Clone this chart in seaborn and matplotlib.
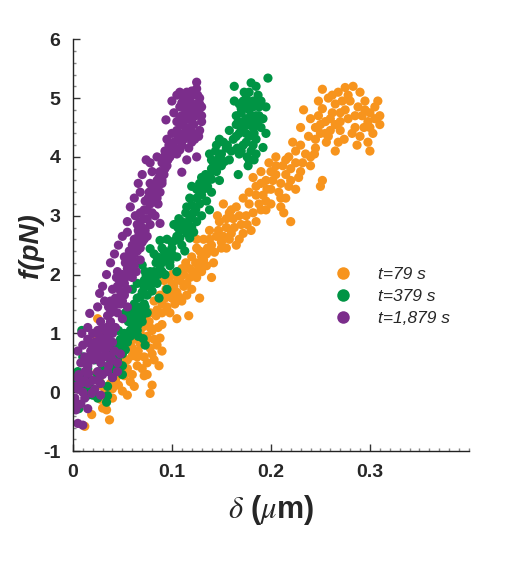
import numpy as np
import pandas as pd
import matplotlib
matplotlib.use("Agg")
import matplotlib.pyplot as plt
from matplotlib.ticker import MultipleLocator, FixedLocator
from matplotlib.lines import Line2D
import seaborn as sns

# ---------------- data ----------------
series_labels = ["t=79 s", "t=379 s", "t=1,879 s"]
series_colors = ["#F7941D", "#009444", "#7B2D8B"]

t79_points = [
    (0.012, -0.58), (0.019, -0.38), (0.030, -0.27), (0.034, -0.30), (0.037, -0.47), (0.028, -0.12),
    (0.022, -0.05), (0.033, 0.02), (0.040, 0.06), (0.046, 0.12), (0.050, 0.02), (0.043, 0.20),
    (0.052, 0.28), (0.058, 0.18), (0.062, 0.10), (0.027, 0.18), (0.015, 0.12), (0.006, 0.28),
    (0.009, 0.05), (0.024, 0.33), (0.035, 0.38), (0.047, 0.42), (0.078, -0.02), (0.080, 0.12),
    (0.072, 0.28), (0.075, 0.30), (0.065, 0.45), (0.040, -0.10), (0.055, -0.05),
    (0.018, 0.00), (0.030, 0.10), (0.045, 0.28), (0.038, 0.15), (0.055, 0.40), (0.060, 0.30),
    (0.050, 0.50), (0.065, 0.60), (0.070, 0.40), (0.075, 0.50),
    (0.055, 0.55), (0.060, 0.62), (0.066, 0.70), (0.050, 0.70), (0.072, 0.60), (0.078, 0.75),
    (0.085, 0.80), (0.082, 0.55), (0.070, 0.85), (0.062, 0.90), (0.075, 0.95), (0.068, 1.00),
    (0.080, 1.05), (0.088, 0.92), (0.058, 0.80), (0.045, 0.75), (0.090, 1.15), (0.077, 1.20),
    (0.084, 1.30), (0.030, 1.00), (0.025, 1.25), (0.022, 0.90), (0.063, 1.10), (0.087, 0.45),
    (0.090, 0.70),
    (0.060, 0.75), (0.068, 0.82), (0.074, 0.88), (0.070, 1.10), (0.078, 1.10), (0.082, 0.90),
    (0.086, 1.10), (0.072, 1.25), (0.080, 0.65), (0.065, 0.98),
    (0.085, 1.40), (0.090, 1.50), (0.095, 1.45), (0.100, 1.60), (0.098, 1.35), (0.105, 1.70),
    (0.110, 1.55), (0.102, 1.80), (0.094, 1.75), (0.088, 1.65), (0.108, 1.90), (0.115, 1.85),
    (0.120, 1.75), (0.112, 2.00), (0.100, 2.00), (0.118, 2.10), (0.125, 1.95), (0.128, 1.60),
    (0.117, 1.30), (0.105, 1.25), (0.078, 1.35), (0.082, 1.55), (0.130, 2.05), (0.124, 2.20),
    (0.092, 1.90),
    (0.090, 1.35), (0.093, 1.60), (0.097, 1.70), (0.103, 1.50), (0.107, 1.62), (0.100, 1.85),
    (0.106, 1.95), (0.112, 1.80), (0.115, 1.65), (0.118, 1.95), (0.122, 2.05), (0.097, 1.95),
    (0.110, 2.10), (0.114, 2.20), (0.127, 2.15),
    (0.120, 2.30), (0.128, 2.40), (0.135, 2.35), (0.140, 2.50), (0.132, 2.60), (0.145, 2.65),
    (0.150, 2.55), (0.138, 2.75), (0.155, 2.80), (0.148, 2.90), (0.160, 2.70), (0.162, 2.95),
    (0.142, 2.20), (0.155, 2.45), (0.168, 2.60), (0.170, 2.85), (0.158, 3.05), (0.165, 3.15),
    (0.175, 3.00), (0.180, 2.75), (0.185, 2.90), (0.152, 3.20), (0.146, 3.00), (0.172, 3.30),
    (0.190, 3.10), (0.135, 2.15), (0.140, 1.95), (0.125, 2.60),
    (0.130, 2.30), (0.136, 2.45), (0.125, 2.45), (0.132, 2.25), (0.143, 2.38), (0.147, 2.75),
    (0.152, 2.65), (0.158, 2.60), (0.163, 2.80), (0.155, 2.95), (0.165, 2.50), (0.172, 2.70),
    (0.176, 2.85), (0.168, 3.00), (0.182, 3.05), (0.160, 3.10), (0.150, 2.45), (0.138, 2.60),
    (0.178, 3.40), (0.185, 3.50), (0.192, 3.35), (0.195, 3.60), (0.200, 3.45), (0.205, 3.70),
    (0.190, 3.75), (0.210, 3.55), (0.215, 3.30), (0.200, 3.20), (0.220, 3.60), (0.212, 3.85),
    (0.225, 3.90), (0.218, 4.00), (0.230, 3.75), (0.235, 4.05), (0.205, 4.00), (0.198, 3.90),
    (0.225, 3.45), (0.210, 3.15), (0.213, 3.05), (0.220, 2.90), (0.240, 3.85), (0.188, 3.20),
    (0.182, 3.65), (0.230, 4.20), (0.222, 4.25), (0.245, 4.15), (0.252, 3.60), (0.250, 3.50),
    (0.178, 3.20), (0.185, 3.35), (0.190, 3.55), (0.196, 3.45), (0.202, 3.60), (0.208, 3.40),
    (0.195, 3.25), (0.205, 3.85), (0.215, 3.70), (0.220, 3.80), (0.228, 3.65), (0.232, 3.90),
    (0.215, 3.95), (0.225, 4.10), (0.240, 4.00), (0.210, 3.30), (0.200, 3.75), (0.195, 3.10),
    (0.218, 3.50),
    (0.238, 4.35), (0.245, 4.50), (0.250, 4.40), (0.255, 4.60), (0.260, 4.45), (0.248, 4.70),
    (0.262, 4.75), (0.270, 4.60), (0.265, 4.90), (0.275, 4.80), (0.258, 5.00), (0.268, 5.10),
    (0.278, 5.05), (0.283, 5.20), (0.275, 5.18), (0.252, 5.15), (0.280, 4.95), (0.288, 4.85),
    (0.292, 4.70), (0.298, 4.60), (0.300, 4.75), (0.305, 4.85), (0.310, 4.70), (0.308, 4.95),
    (0.295, 4.95), (0.285, 4.50), (0.290, 4.35), (0.298, 4.25), (0.300, 4.10), (0.287, 4.20),
    (0.274, 4.30), (0.265, 4.10), (0.240, 4.65), (0.230, 4.50), (0.233, 4.80), (0.244, 4.05),
    (0.310, 4.55), (0.303, 4.40), (0.270, 4.45), (0.256, 4.25),
    (0.250, 4.55), (0.245, 4.30), (0.255, 4.40), (0.260, 4.65), (0.252, 4.82), (0.265, 4.55),
    (0.258, 4.35), (0.270, 4.75), (0.272, 4.95), (0.262, 5.05), (0.290, 5.10), (0.285, 4.70),
    (0.295, 4.80), (0.300, 4.50), (0.278, 4.65), (0.248, 4.95), (0.305, 4.65), (0.294, 4.50),
    (0.282, 4.40), (0.268, 4.25),
]

t379_points = [
    (0.000, 0.10), (0.005, 0.20), (0.006, -0.28), (0.012, 0.05), (0.018, 0.20), (0.020, -0.05),
    (0.025, 0.30), (0.034, -0.17), (0.035, -0.06), (0.035, 0.10), (0.040, 0.25), (0.030, 0.45),
    (0.015, 0.40), (0.045, 0.40), (0.050, 0.30), (0.010, 0.60), (0.009, 1.05), (0.022, 0.55),
    (0.010, 0.25), (0.020, 0.05), (0.028, 0.15), (0.030, 0.35), (0.040, 0.40), (0.045, 0.55),
    (0.015, -0.05), (0.025, -0.10), (0.005, 0.35),
    (0.040, 0.60), (0.045, 0.70), (0.050, 0.65), (0.042, 0.80), (0.048, 0.90), (0.055, 0.85),
    (0.052, 1.00), (0.058, 0.95), (0.060, 1.10), (0.046, 1.05), (0.056, 1.20), (0.063, 1.25),
    (0.065, 1.05), (0.070, 1.30), (0.060, 1.40), (0.068, 1.45), (0.072, 1.50), (0.075, 1.35),
    (0.038, 0.50), (0.035, 0.75), (0.050, 0.45), (0.071, 0.91), (0.073, 0.80), (0.066, 0.95),
    (0.053, 1.35),
    (0.043, 0.62), (0.048, 0.78), (0.053, 0.72), (0.055, 0.95), (0.050, 0.88), (0.058, 1.05),
    (0.062, 1.00), (0.060, 1.20), (0.066, 1.15), (0.064, 1.35), (0.070, 1.20), (0.068, 1.38),
    (0.073, 1.45), (0.057, 1.30), (0.062, 1.50),
    (0.065, 1.60), (0.070, 1.70), (0.075, 1.65), (0.078, 1.80), (0.072, 1.90), (0.080, 1.95),
    (0.085, 1.85), (0.082, 2.05), (0.088, 2.10), (0.090, 2.20), (0.085, 2.30), (0.095, 2.25),
    (0.092, 2.40), (0.100, 2.35), (0.098, 2.15), (0.105, 2.30), (0.093, 2.00), (0.070, 2.16),
    (0.074, 1.98), (0.078, 2.44), (0.088, 2.58), (0.087, 1.60), (0.095, 1.75), (0.105, 2.05),
    (0.065, 1.85), (0.060, 1.75),
    (0.068, 1.62), (0.072, 1.78), (0.076, 1.85), (0.080, 1.72), (0.083, 1.90), (0.078, 2.05),
    (0.086, 2.00), (0.090, 2.05), (0.084, 2.20), (0.088, 2.28), (0.092, 2.30), (0.096, 2.38),
    (0.100, 2.45), (0.090, 2.45), (0.082, 2.35), (0.073, 2.05), (0.098, 2.22),
    (0.100, 2.55), (0.105, 2.65), (0.110, 2.50), (0.108, 2.75), (0.115, 2.70), (0.112, 2.85),
    (0.120, 2.80), (0.118, 2.95), (0.125, 2.90), (0.122, 3.05), (0.130, 3.00), (0.115, 3.15),
    (0.128, 3.20), (0.118, 3.30), (0.130, 3.35), (0.135, 3.25), (0.125, 3.45), (0.140, 3.40),
    (0.133, 3.55), (0.120, 3.50), (0.095, 2.60), (0.102, 2.85), (0.138, 3.10), (0.113, 2.40),
    (0.107, 2.95),
    (0.103, 2.58), (0.108, 2.62), (0.106, 2.80), (0.110, 2.90), (0.113, 2.78), (0.116, 2.88),
    (0.120, 3.00), (0.124, 3.10), (0.120, 3.18), (0.125, 3.30), (0.128, 3.40), (0.132, 3.45),
    (0.136, 3.50), (0.128, 3.55), (0.114, 3.05), (0.118, 2.62), (0.122, 2.72),
    (0.130, 3.65), (0.138, 3.70), (0.140, 3.80), (0.145, 3.75), (0.142, 3.90), (0.148, 4.00),
    (0.150, 3.85), (0.138, 4.05), (0.155, 4.15), (0.152, 4.25), (0.145, 4.20), (0.158, 3.95),
    (0.135, 3.60), (0.160, 4.10), (0.148, 3.60),
    (0.134, 3.70), (0.140, 3.62), (0.143, 3.85), (0.146, 3.95), (0.144, 4.10), (0.150, 4.05),
    (0.153, 3.92), (0.156, 4.20), (0.148, 4.30), (0.140, 3.95),
    (0.162, 4.30), (0.168, 4.40), (0.165, 4.55), (0.172, 4.50), (0.175, 4.65), (0.170, 4.75),
    (0.178, 4.80), (0.168, 4.90), (0.175, 5.00), (0.182, 4.95), (0.180, 4.60), (0.185, 4.70),
    (0.188, 4.85), (0.190, 4.50), (0.178, 4.35), (0.172, 4.20), (0.180, 4.10), (0.185, 4.30),
    (0.177, 3.85), (0.167, 3.70), (0.168, 4.05), (0.192, 4.16), (0.192, 4.65), (0.195, 4.85),
    (0.187, 5.05), (0.180, 5.26), (0.185, 5.20), (0.197, 5.34), (0.163, 5.20), (0.173, 5.10),
    (0.195, 4.40), (0.165, 4.70), (0.163, 4.95), (0.158, 4.45), (0.183, 3.95), (0.176, 4.00),
    (0.165, 4.35), (0.170, 4.45), (0.175, 4.40), (0.172, 4.60), (0.177, 4.55), (0.182, 4.50),
    (0.180, 4.70), (0.176, 4.90), (0.182, 4.85), (0.172, 4.95), (0.178, 5.10), (0.170, 4.82),
    (0.186, 4.60), (0.183, 4.40), (0.188, 4.70), (0.175, 4.25), (0.182, 4.20), (0.170, 4.10),
    (0.185, 4.05), (0.178, 3.95), (0.166, 4.15), (0.190, 4.95), (0.167, 4.60),
]

t1879_points = [
    (0.003, 0.10), (0.002, -0.10), (0.005, 0.25), (0.008, -0.20), (0.006, 0.30), (0.010, 0.00),
    (0.015, 0.15), (0.015, -0.28), (0.019, -0.02), (0.022, 0.05), (0.025, 0.20), (0.028, -0.05),
    (0.005, -0.53), (0.010, -0.56), (0.003, -0.30), (0.012, 0.35), (0.030, 0.30), (0.035, 0.35),
    (0.005, 0.05), (0.008, 0.15), (0.012, 0.20), (0.016, 0.32), (0.020, 0.20), (0.025, 0.35),
    (0.028, 0.15), (0.004, -0.20), (0.012, -0.10),
    (0.008, 0.50), (0.012, 0.60), (0.015, 0.45), (0.018, 0.70), (0.020, 0.55), (0.025, 0.65),
    (0.028, 0.50), (0.030, 0.75), (0.033, 0.60), (0.036, 0.45), (0.040, 0.55), (0.022, 0.85),
    (0.027, 0.95), (0.032, 0.90), (0.015, 0.90), (0.010, 0.80), (0.035, 1.00), (0.040, 0.85),
    (0.042, 0.70), (0.045, 0.50), (0.030, 1.10), (0.025, 1.05), (0.020, 1.00), (0.038, 1.20),
    (0.043, 1.10), (0.005, 0.70), (0.009, 1.00), (0.045, 0.35), (0.040, 0.25), (0.015, 1.10),
    (0.048, 0.65),
    (0.012, 0.50), (0.017, 0.58), (0.020, 0.65), (0.023, 0.75), (0.026, 0.55), (0.030, 0.60),
    (0.033, 0.72), (0.036, 0.80), (0.030, 0.88), (0.025, 0.80), (0.018, 0.82), (0.038, 0.62),
    (0.035, 0.92), (0.040, 1.00), (0.033, 1.05), (0.028, 1.20), (0.036, 1.12),
    (0.035, 1.30), (0.040, 1.40), (0.045, 1.35), (0.038, 1.55), (0.043, 1.60), (0.048, 1.50),
    (0.050, 1.70), (0.045, 1.80), (0.052, 1.85), (0.055, 1.75), (0.050, 2.00), (0.057, 2.05),
    (0.060, 1.95), (0.053, 2.20), (0.058, 2.30), (0.062, 2.15), (0.065, 2.40), (0.060, 2.50),
    (0.045, 2.05), (0.040, 1.75), (0.032, 1.55), (0.027, 1.68), (0.055, 1.45), (0.050, 1.25),
    (0.017, 1.34), (0.068, 2.25),
    (0.038, 1.35), (0.042, 1.48), (0.046, 1.60), (0.048, 1.72), (0.050, 1.55), (0.052, 1.65),
    (0.047, 1.90), (0.053, 1.95), (0.055, 2.10), (0.058, 2.15), (0.060, 2.25), (0.062, 2.35),
    (0.057, 2.40), (0.063, 2.50), (0.044, 1.95), (0.036, 1.45), (0.052, 2.30),
    (0.030, 1.80), (0.034, 2.00), (0.038, 2.20), (0.042, 2.35), (0.046, 2.50), (0.025, 1.45),
    (0.064, 2.05), (0.068, 2.45), (0.070, 2.55),
    (0.062, 2.60), (0.067, 2.70), (0.065, 2.85), (0.070, 2.80), (0.072, 2.95), (0.068, 3.05),
    (0.075, 3.10), (0.073, 3.25), (0.078, 3.20), (0.077, 3.40), (0.082, 3.35), (0.080, 3.50),
    (0.085, 3.45), (0.055, 2.72), (0.088, 2.87), (0.083, 3.00), (0.063, 3.00), (0.068, 3.40),
    (0.090, 3.55), (0.075, 2.65),
    (0.065, 2.62), (0.068, 2.90), (0.070, 2.68), (0.072, 3.10), (0.075, 2.95), (0.076, 3.30),
    (0.080, 3.28), (0.080, 3.05), (0.083, 3.40), (0.078, 3.55), (0.085, 3.30), (0.072, 2.60),
    (0.066, 2.75),
    (0.050, 2.65), (0.055, 2.90), (0.058, 3.15), (0.062, 3.30), (0.066, 3.55), (0.070, 3.70),
    (0.074, 3.95), (0.073, 2.75), (0.078, 2.85), (0.086, 3.20), (0.088, 3.40),
    (0.085, 3.60), (0.088, 3.75), (0.092, 3.70), (0.090, 3.90), (0.095, 3.85), (0.098, 4.00),
    (0.093, 4.10), (0.100, 4.15), (0.105, 4.05), (0.102, 4.25), (0.108, 4.30), (0.110, 4.20),
    (0.112, 4.40), (0.105, 4.45), (0.115, 4.35), (0.118, 4.50), (0.120, 4.25), (0.110, 3.74),
    (0.115, 3.95), (0.125, 4.00), (0.085, 4.00), (0.080, 3.75), (0.095, 4.30), (0.122, 4.55),
    (0.128, 4.45), (0.094, 4.63), (0.078, 3.90),
    (0.087, 3.65), (0.090, 3.60), (0.093, 3.80), (0.096, 3.95), (0.100, 4.05), (0.097, 4.20),
    (0.103, 4.15), (0.106, 4.35), (0.108, 4.12), (0.112, 4.30), (0.114, 4.48), (0.117, 4.40),
    (0.120, 4.42), (0.100, 4.40), (0.092, 4.00), (0.117, 4.15), (0.123, 4.30),
    (0.105, 4.60), (0.110, 4.70), (0.108, 4.85), (0.115, 4.75), (0.120, 4.80), (0.118, 4.95),
    (0.125, 4.90), (0.122, 5.05), (0.128, 5.00), (0.130, 4.70), (0.112, 5.00), (0.105, 5.05),
    (0.100, 4.95), (0.115, 5.10), (0.125, 5.16), (0.125, 5.27), (0.120, 5.12), (0.102, 4.75),
    (0.130, 4.60), (0.127, 4.35), (0.110, 4.55), (0.117, 4.65), (0.124, 4.70),
    (0.108, 4.65), (0.113, 4.82), (0.112, 4.60), (0.117, 4.88), (0.120, 4.62), (0.123, 4.82),
    (0.127, 4.78), (0.128, 4.90), (0.126, 5.05), (0.118, 5.05), (0.110, 4.92), (0.108, 5.10),
    (0.120, 4.70), (0.130, 4.85),
]

x_tick_values = [0, 0.1, 0.2, 0.3]
x_tick_labels = ["0", "0.1", "0.2", "0.3"]
y_tick_values = [-1, 0, 1, 2, 3, 4, 5, 6]

# ---------------- build table ----------------
frames = []
for lab, pts in zip(series_labels, [t79_points, t379_points, t1879_points]):
    arr = np.array(pts)
    frames.append(pd.DataFrame({"delta": arr[:, 0], "f": arr[:, 1], "series": lab}))
df = pd.concat(frames, ignore_index=True)

# ---------------- plot ----------------
sns.set_style("ticks")
plt.rcParams["font.family"] = ["Liberation Sans", "DejaVu Sans"]
plt.rcParams["mathtext.fontset"] = "stix"
plt.rcParams["axes.unicode_minus"] = False

fig = plt.figure(figsize=(5.17, 5.61), dpi=100)
ax = fig.add_axes([0.141, 0.196, 0.766, 0.734])

palette = dict(zip(series_labels, series_colors))
sns.scatterplot(data=df, x="delta", y="f", hue="series", hue_order=series_labels,
                palette=palette, s=44, linewidth=0, alpha=1.0, ax=ax, legend=False)

ax.set_xlim(0, 0.4)
ax.set_ylim(-1, 6)
sns.despine(ax=ax)
for sp in ["left", "bottom"]:
    ax.spines[sp].set_linewidth(1.0)
    ax.spines[sp].set_color("#222222")

ax.xaxis.set_major_locator(FixedLocator(x_tick_values))
ax.set_xticklabels(x_tick_labels)
ax.xaxis.set_minor_locator(MultipleLocator(0.01))
ax.yaxis.set_major_locator(FixedLocator(y_tick_values))
ax.yaxis.set_minor_locator(MultipleLocator(0.2))
ax.tick_params(which="major", direction="in", length=5, width=1, color="#333333",
               labelsize=14, pad=9)
ax.tick_params(which="minor", direction="in", length=2.5, width=1, color="#888888")
for lbl in ax.get_xticklabels() + ax.get_yticklabels():
    lbl.set_fontweight("bold")

ax.set_xlabel(r"$\mathit{\delta}$ ($\mu$m)", fontsize=22, fontweight="bold", labelpad=9)
ax.set_ylabel("f(pN)", fontsize=20, fontweight="bold", fontstyle="italic", labelpad=-1)

handles = [Line2D([0], [0], marker="o", linestyle="none", markersize=9,
                  markerfacecolor=c, markeredgewidth=0) for c in series_colors]
leg = ax.legend(handles, series_labels, loc="upper left", frameon=False,
                bbox_to_anchor=(0.60, 0.485), handletextpad=1.0, labelspacing=0.4,
                prop={"size": 12.5, "style": "italic"})

fig.savefig("out.png", dpi=100)
